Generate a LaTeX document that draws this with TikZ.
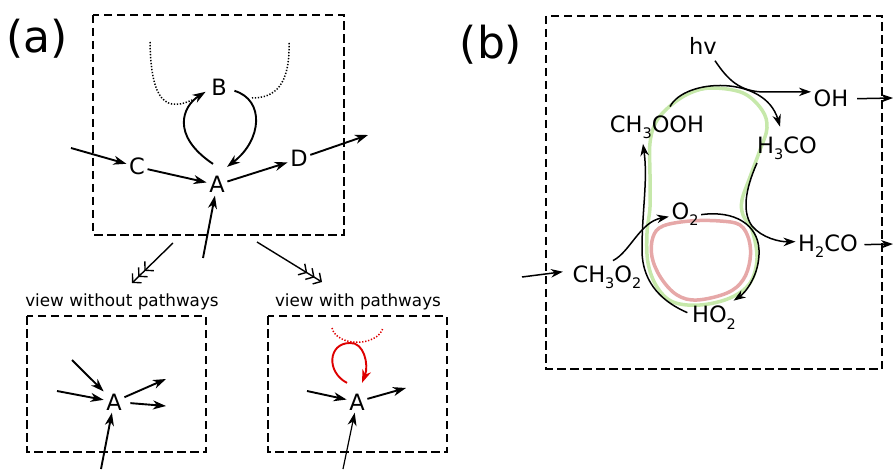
\documentclass[tikz,border=0pt]{standalone}
\usepackage{fontspec}
\setmainfont{DejaVu Sans}
\usetikzlibrary{arrows.meta}
\newcommand\sbx[1]{\raisebox{-6pt}{\fontsize{14.5}{14.5}\selectfont #1}}
\definecolor{loopgreen}{RGB}{198,232,170}
\definecolor{looppink}{RGB}{230,168,168}
\definecolor{pathred}{RGB}{222,0,0}
\begin{document}
\begin{tikzpicture}[x=1pt,y=-1pt,
  lbl/.style={font=\fontsize{22.5}{24}\selectfont, inner sep=2.5pt, anchor=base},
  small/.style={font=\fontsize{16.8}{20}\selectfont, inner sep=0pt, anchor=base},
  big/.style={font=\fontsize{44}{50}\selectfont, inner sep=0pt, anchor=base},
  dbox/.style={draw, line width=2.2pt, dash pattern=on 8.5pt off 4.5pt},
  arr/.style={-{Stealth[length=13pt,width=9pt,inset=4pt]}, line width=1.9pt},
  arrb/.style={-{Stealth[length=12pt,width=8.5pt,inset=3.8pt]}, line width=1.5pt},
  dotln/.style={line width=1.5pt, dash pattern=on 1.3pt off 1.7pt},
  tri/.style={-{Straight Barb[length=6pt,width=13pt,sep=1pt]Straight Barb[length=6pt,width=13pt,sep=1pt]Straight Barb[length=6pt,width=13pt]}, line width=1.4pt},
  loopg/.style={draw=loopgreen, line width=3.5pt},
  loopr/.style={draw=looppink, line width=3.5pt}
  ]
\useasboundingbox (0,0) rectangle (894,470);

% ---------------- (a) ----------------
\node[big] (la) at (37,53) {(a)};
\draw[dbox] (93,15) rectangle (344,235);
\node[lbl] (A1) at (217,193) {A};
\node[lbl] (B1) at (219,96) {B};
\node[lbl] (C1) at (137,175) {C};
\node[lbl] (D1) at (299,167) {D};
\coordinate (cin) at (71,148);
\coordinate (dout) at (368,135);
\coordinate (ain) at (203,258);
\draw[arr] (cin) -- (C1);
\draw[arr] (C1) -- (A1);
\draw[arr] (A1) -- (D1);
\draw[arr] (D1) -- (dout);
\draw[arr] (ain) -- (A1);
\draw[arr] ([shift={(-4,-10)}]A1.north) .. controls (170,135) and (183,106) .. ([shift={(-3,4)}]B1.west);
\draw[arr] ([shift={(5,3)}]B1.east) .. controls (265,100) and (262,140) .. ([shift={(10,-7)}]A1.north);
\coordinate (dl0) at (150,42);
\coordinate (dl1) at (192,100);
\coordinate (dr0) at (289,43);
\coordinate (dr1) at (252,98);
\draw[dotln] (dl0) .. controls (151,90) and (160,115) .. (dl1);
\draw[dotln] (dr0) .. controls (290,85) and (275,98) .. (dr1);

\coordinate (t1a) at (173,243);
\coordinate (t1b) at (132,283);
\coordinate (t2a) at (257,242);
\coordinate (t2b) at (322,282);
\draw[tri] (t1a) -- (t1b);
\draw[tri] (t2a) -- (t2b);
\node[small] (v1) at (122,306) {view without pathways};
\node[small] (v2) at (358,306) {view with pathways};

% bottom left
\draw[dbox] (27,316) rectangle (206,452);
\node[lbl] (A2) at (114,410) {A};
\coordinate (p1) at (72,360);
\coordinate (p2) at (57,391);
\coordinate (p3) at (101,469);
\coordinate (q1) at (166,379);
\coordinate (q2) at (166,406);
\draw[arr] (p1) -- (A2);
\draw[arr] (p2) -- (A2);
\draw[arr] (p3) -- (A2);
\draw[arr] (A2) -- (q1);
\draw[arr, shorten <=6pt] (A2) -- (q2);

% bottom right
\draw[dbox] (268,316) rectangle (447,452);
\node[lbl] (A3) at (357,410) {A};
\coordinate (r1) at (307,391);
\coordinate (r2) at (406,388);
\coordinate (r3) at (343,469);
\draw[arr] (r1) -- (A3);
\draw[arr] (A3) -- (r2);
\draw[arr, line width=1.2pt] (r3) -- (A3);
\coordinate (rd0) at (332,328);
\coordinate (rd1) at (383,328);
\draw[dotln, draw=pathred] (rd0) .. controls (337,347) and (377,347) .. (rd1);
\draw[arr, draw=pathred] ([shift={(-10,-8)}]A3.north) .. controls (326,372) and (328,343) .. (350,343) .. controls (364,342) and (369,365) .. ([shift={(5,-8)}]A3.north);

% ---------------- (b) ----------------
\node[big] (lb) at (491,59) {(b)};
\draw[dbox] (546,16) rectangle (882,369);

\draw[loopg] plot[smooth cycle, tension=0.6] coordinates {(650,143) (656,122) (670,106) (690,93) (712,88) (743,93) (762,110) (767,128) (760,150) (750,177) (742,200) (743,215) (752,230) (757,258) (750,283) (730,298) (700,305) (673,302) (657,287) (648,263) (647,233) (650,207) (650,175)};
\draw[loopr] plot[smooth cycle, tension=0.6] coordinates {(663,226) (690,221) (720,221) (740,225) (749,240) (750,260) (743,280) (727,293) (697,300) (677,295) (661,278) (652,257) (653,237)};

\node[lbl] (hv) at (703,55) {hv};
\node[lbl] (OH) at (831,107) {OH};
\node[lbl] (CHOOH) at (657,133) {CH\sbx{3}OOH};
\node[lbl] (HHCO) at (787,154) {H\sbx{3}CO};
\node[lbl] (O2) at (685,220) {O\sbx{2}};
\node[lbl] (H2CO) at (828,252) {H\sbx{2}CO};
\node[lbl] (CHO2) at (607,283) {CH\sbx{3}O\sbx{2}};
\node[lbl] (HO2) at (714,323) {HO\sbx{2}};

\coordinate (bin) at (522,277);
\coordinate (ohout) at (893,98);
\coordinate (hcout) at (893,244);
\draw[arrb] (bin) -- ([shift={(-7,-6)}]CHO2.west);
\draw[arrb, shorten <=6pt] (OH.east) -- (ohout);
\draw[arrb] ([shift={(4,-2)}]H2CO.east) -- (hcout);

\draw[arrb] ([shift={(12,3)}]hv.south) .. controls (728,80) and (740,92) .. (765,92) -- ([shift={(0,-7)}]OH.west);
\draw[arrb] ([shift={(13,-7)}]CHOOH.north) .. controls (685,78) and (765,75) .. ([shift={(-7,-8)}]HHCO.north);
\draw[arrb] ([shift={(-30,0)}]HHCO.south) .. controls (745,190) and (742,212) .. (752,226) .. controls (762,238) and (780,242) .. ([shift={(0,-5)}]H2CO.west);
\draw[arrb] (O2.east) .. controls (735,210) and (758,225) .. (759,250) .. controls (760,275) and (745,293) .. ([shift={(-5,-3)}]HO2.north east);
\draw[arrb] ([shift={(-2,-5)}]HO2.west) .. controls (665,303) and (642,285) .. (642,250) .. controls (642,210) and (648,180) .. ([shift={(-14,2)}]CHOOH.south);
\draw[arrb] ([shift={(6,-3)}]CHO2.north) .. controls (630,252) and (640,222) .. ([shift={(0,2)}]O2.west);
\end{tikzpicture}
\end{document}
